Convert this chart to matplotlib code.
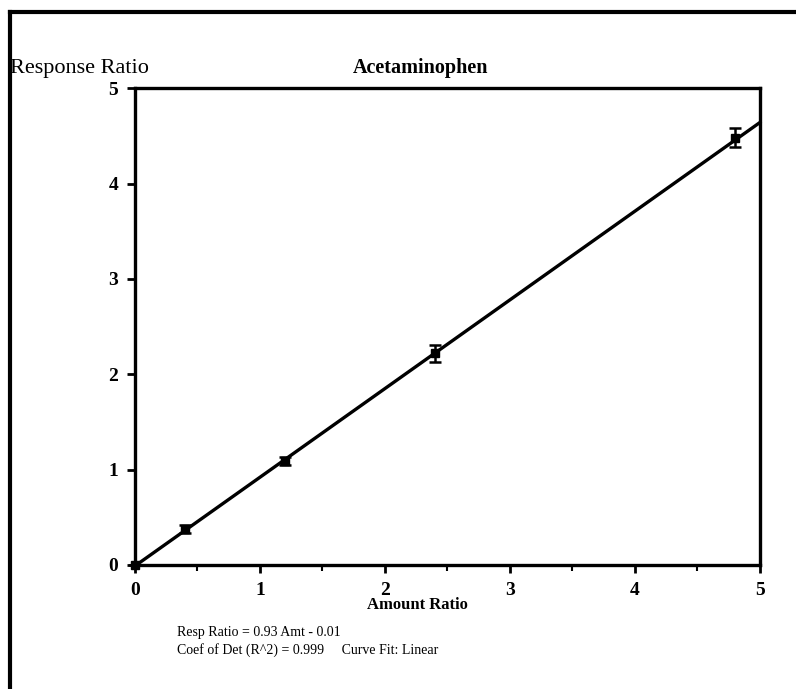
import matplotlib.pyplot as plt
from matplotlib.lines import Line2D
from matplotlib.ticker import MultipleLocator

# Calibration data for acetaminophen
amount_ratio = [0.0, 0.4, 1.2, 2.4, 4.8]
response_ratio = [0.0, 0.38, 1.09, 2.22, 4.48]
response_err = [0.0, 0.04, 0.04, 0.09, 0.10]

# Linear fit
slope = 0.93
intercept = -0.01
fit_x = [0.0, 5.0]

x_ticks = [0, 1, 2, 3, 4, 5]
y_ticks = [0, 1, 2, 3, 4, 5]

plt.rcParams['font.family'] = ['Liberation Serif', 'DejaVu Serif']

fig = plt.figure(figsize=(7.96, 6.89), dpi=100)
ax = fig.add_axes([0.1696, 0.180, 0.785, 0.692])

fit_y = [slope * x + intercept for x in fit_x]
ax.plot(fit_x, fit_y, color='black', lw=2.4, clip_on=False, zorder=3)
ax.errorbar(amount_ratio, response_ratio, yerr=response_err, fmt='s',
            color='black', ms=6, elinewidth=1.8, capsize=4, capthick=1.8,
            clip_on=False, zorder=4)

ax.set_xlim(0, 5)
ax.set_ylim(0, 5)
ax.set_xticks(x_ticks)
ax.set_yticks(y_ticks)
ax.xaxis.set_minor_locator(MultipleLocator(0.5))
ax.tick_params(axis='both', which='major', direction='out', length=6, width=2)
ax.tick_params(axis='x', which='minor', direction='out', length=4, width=1.5)
ax.tick_params(axis='x', pad=6)
ax.tick_params(axis='y', pad=6)
for lbl in ax.get_xticklabels() + ax.get_yticklabels():
    lbl.set_fontweight('bold')
    lbl.set_fontsize(14)

for sp in ax.spines.values():
    sp.set_linewidth(2.4)

# Labels and title
fig.text(0.525, 0.122, 'Amount Ratio', fontsize=12, fontweight='bold',
         ha='center', va='center')
fig.text(0.528, 0.901, 'Acetaminophen', fontsize=14.5, fontweight='bold',
         ha='center', va='center')
fig.text(0.013, 0.901, 'Response Ratio', fontsize=16, ha='left', va='center')

# Fit summary below the plot
fig.text(0.222, 0.082, 'Resp Ratio = 0.93 Amt - 0.01', fontsize=10,
         ha='left', va='center')
fig.text(0.222, 0.057, 'Coef of Det (R^2) = 0.999     Curve Fit: Linear',
         fontsize=10, ha='left', va='center')

# Page frame lines
fig.add_artist(Line2D([0.0126, 0.0126], [0.0, 0.983], color='black', lw=3,
                      transform=fig.transFigure))
fig.add_artist(Line2D([0.0126, 1.0], [0.983, 0.983], color='black', lw=3,
                      transform=fig.transFigure))

fig.savefig('out.png', dpi=100, facecolor='white')
